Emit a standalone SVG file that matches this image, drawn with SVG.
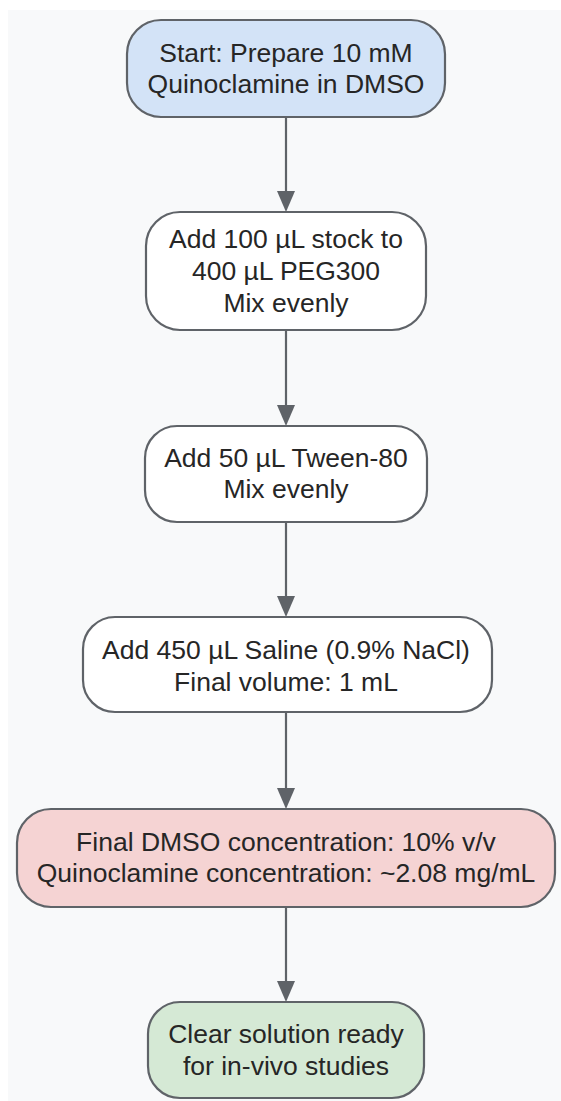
<svg xmlns="http://www.w3.org/2000/svg" width="561" height="1101" viewBox="0 0 561 1101">
<defs>
<style>
.node rect{stroke:#5f6368;stroke-width:2.2}
.node text{font-family:"Liberation Sans",Arial,sans-serif;font-size:26.5px;fill:#262626;text-anchor:middle}
.edge{stroke:#5f6368;stroke-width:2.2;fill:none}
.head{fill:#5f6368}
</style>
</defs>
<rect x="8" y="10" width="553" height="1091" fill="#f8f9fa"/>
<g id="connectors">
<line class="edge" x1="286" y1="117" x2="286" y2="195"/>
<path class="head" d="M277,191 L295,191 L286,212 Z"/>
<line class="edge" x1="286" y1="330" x2="286" y2="410"/>
<path class="head" d="M277,405 L295,405 L286,426 Z"/>
<line class="edge" x1="286" y1="522" x2="286" y2="600"/>
<path class="head" d="M277,596 L295,596 L286,617 Z"/>
<line class="edge" x1="286" y1="712" x2="286" y2="792"/>
<path class="head" d="M277,788 L295,788 L286,809 Z"/>
<line class="edge" x1="286" y1="907" x2="286" y2="985"/>
<path class="head" d="M277,981 L295,981 L286,1002 Z"/>
</g>
<g id="node1" class="node">
<rect x="127" y="20" width="318" height="97" rx="34" fill="#d3e3f7"/>
<text x="286" y="62">Start: Prepare 10 mM<tspan x="286" dy="31">Quinoclamine in DMSO</tspan></text>
</g>
<g id="node2" class="node">
<rect x="146" y="212" width="280" height="118" rx="34" fill="#ffffff"/>
<text x="286" y="248">Add 100 µL stock to<tspan x="286" dy="32">400 µL PEG300</tspan><tspan x="286" dy="32">Mix evenly</tspan></text>
</g>
<g id="node3" class="node">
<rect x="145" y="426" width="282" height="96" rx="32" fill="#ffffff"/>
<text x="286" y="467">Add 50 µL Tween-80<tspan x="286" dy="31">Mix evenly</tspan></text>
</g>
<g id="node4" class="node">
<rect x="83" y="617" width="409" height="95" rx="32" fill="#ffffff"/>
<text x="286" y="659">Add 450 µL Saline (0.9% NaCl)<tspan x="286" dy="32">Final volume: 1 mL</tspan></text>
</g>
<g id="node5" class="node">
<rect x="17" y="809" width="538" height="98" rx="34" fill="#f5d3d3"/>
<text x="286" y="851">Final DMSO concentration: 10% v/v<tspan x="286" dy="31">Quinoclamine concentration: ~2.08 mg/mL</tspan></text>
</g>
<g id="node6" class="node">
<rect x="148" y="1002" width="276" height="96" rx="32" fill="#d5e9d5"/>
<text x="286" y="1043">Clear solution ready<tspan x="286" dy="32">for in-vivo studies</tspan></text>
</g>
</svg>
